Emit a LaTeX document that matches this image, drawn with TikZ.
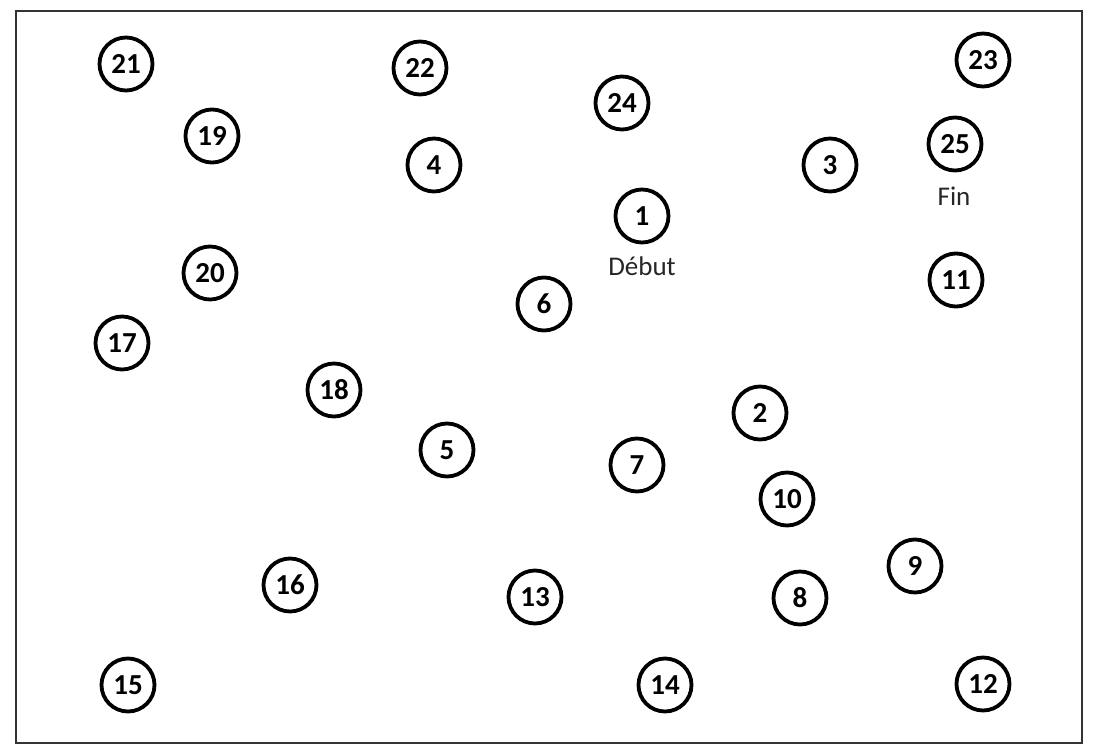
\documentclass[tikz,border=0pt]{standalone}
\usepackage{fontspec}
\setmainfont{Carlito}
\begin{document}
\begin{tikzpicture}[x=1pt, y=-1pt,
    num/.style={draw, circle, line width=3.8pt, minimum size=53pt, inner sep=0pt,
      font=\fontsize{29}{32}\selectfont\bfseries},
    tag/.style={font=\fontsize{27}{30}\selectfont, text=black!85}]
      \useasboundingbox (0, 0) rectangle (1104, 754);
      \draw [line width=2pt, black!80] (16, 11) rectangle (1082, 743);
      \foreach \n/\x/\y in {21/126/64, 22/420/68, 23/983/60, 24/622/103,
          19/212/136, 4/434/165, 3/830/165, 25/955/144, 1/642/216,
          20/210/273, 11/956/280, 6/544/304, 17/122/343, 18/334/390,
          2/760/413, 5/447/450, 7/637/465, 10/787/499, 9/915/566,
          16/290/585, 13/535/597, 8/800/598, 15/128/685, 14/665/685,
          12/983/684}
        \node [num] (n\n) at (\x, \y) {\n};
      \node [tag] (debut) at (642, 266) {Début};
      \node [tag] (fin) at (954, 196) {Fin};
    \end{tikzpicture}
\end{document}
